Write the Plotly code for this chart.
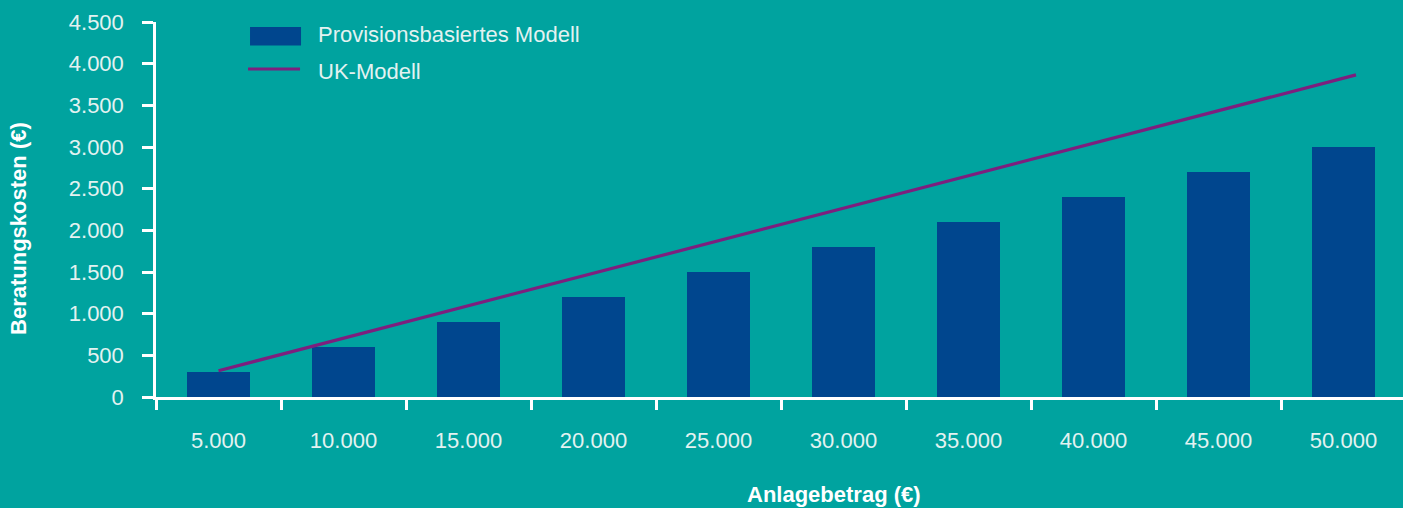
import plotly.graph_objects as go

# ---- data ----
anlage = [5000, 10000, 15000, 20000, 25000, 30000, 35000, 40000, 45000, 50000]
x_labels = ["5.000", "10.000", "15.000", "20.000", "25.000",
            "30.000", "35.000", "40.000", "45.000", "50.000"]
provision = [300, 600, 900, 1200, 1500, 1800, 2100, 2400, 2700, 3000]
uk_x = [5000, 50500]
uk_y = [315, 3865]
y_ticks = [0, 500, 1000, 1500, 2000, 2500, 3000, 3500, 4000, 4500]
y_labels = ["0", "500", "1.000", "1.500", "2.000", "2.500", "3.000", "3.500", "4.000", "4.500"]
boundaries = [2500, 7500, 12500, 17500, 22500, 27500, 32500, 37500, 42500, 47500]

BG = "#00A39F"
BAR = "#00468E"
LINE = "#7D1F7E"
TXT = "#E3F2F1"
FONT = "Liberation Sans"
FS = 22

fig = go.Figure()
fig.add_trace(go.Bar(x=anlage, y=provision, width=2500, marker=dict(color=BAR, line=dict(width=0)),
                     name="Provisionsbasiertes Modell", showlegend=False))
fig.add_trace(go.Scatter(x=uk_x, y=uk_y, mode="lines", line=dict(color=LINE, width=3.2),
                         name="UK-Modell", showlegend=False))

fig.update_layout(
    width=1403, height=508,
    paper_bgcolor=BG, plot_bgcolor=BG,
    margin=dict(l=156, r=0, t=22, b=111),
    font=dict(family=FONT, size=FS, color=TXT),
    xaxis=dict(
        type="linear", range=[2500, 52380],
        tickmode="array", tickvals=anlage, ticktext=x_labels,
        ticks="", showgrid=False, zeroline=False,
        showline=True, linecolor="white", linewidth=2.5,
        ticklabelstandoff=22,
        minor=dict(tickmode="array", tickvals=boundaries, ticks="outside",
                   ticklen=10, tickwidth=2.5, tickcolor="white", showgrid=False),
        tickfont=dict(family=FONT, size=FS, color=TXT),
    ),
    yaxis=dict(
        range=[0, 4500], tickmode="array", tickvals=y_ticks, ticktext=y_labels,
        ticks="outside", ticklen=11, tickwidth=2.5, tickcolor="white",
        showgrid=False, zeroline=False,
        showline=True, linecolor="white", linewidth=2.5,
        ticklabelstandoff=14,
        tickfont=dict(family=FONT, size=FS, color=TXT),
    ),
    bargap=0,
)

# axis titles
fig.add_annotation(text="<b>Beratungskosten (€)</b>", xref="paper", yref="paper",
                   x=-0.1099, y=0.4507, xanchor="center", yanchor="middle",
                   textangle=-90, showarrow=False,
                   font=dict(family=FONT, size=FS, color="white"))
fig.add_annotation(text="<b>Anlagebetrag (€)</b>", xref="paper", yref="paper",
                   x=0.5437, y=(397 - 494) / 375, xanchor="center", yanchor="middle",
                   showarrow=False, font=dict(family=FONT, size=FS, color="white"))

# custom legend
fig.add_shape(type="rect", xref="paper", yref="paper", x0=0.0754, x1=0.1163,
              y0=0.9373, y1=0.9867, fillcolor=BAR, line=dict(width=0))
fig.add_shape(type="line", xref="paper", yref="paper", x0=0.0738, x1=0.1155,
              y0=0.8747, y1=0.8747, line=dict(color=LINE, width=3))
fig.add_annotation(text="Provisionsbasiertes Modell", xref="paper", yref="paper",
                   x=0.1283, y=(397 - 34.5) / 375, xanchor="left", yanchor="middle",
                   showarrow=False, font=dict(family=FONT, size=FS, color=TXT))
fig.add_annotation(text="UK-Modell", xref="paper", yref="paper",
                   x=0.1283, y=(397 - 71) / 375, xanchor="left", yanchor="middle",
                   showarrow=False, font=dict(family=FONT, size=FS, color=TXT))

fig.write_html("out.html", config={"displayModeBar": False},
               post_script="document.body.style.margin='0';document.body.style.overflow='hidden';")
